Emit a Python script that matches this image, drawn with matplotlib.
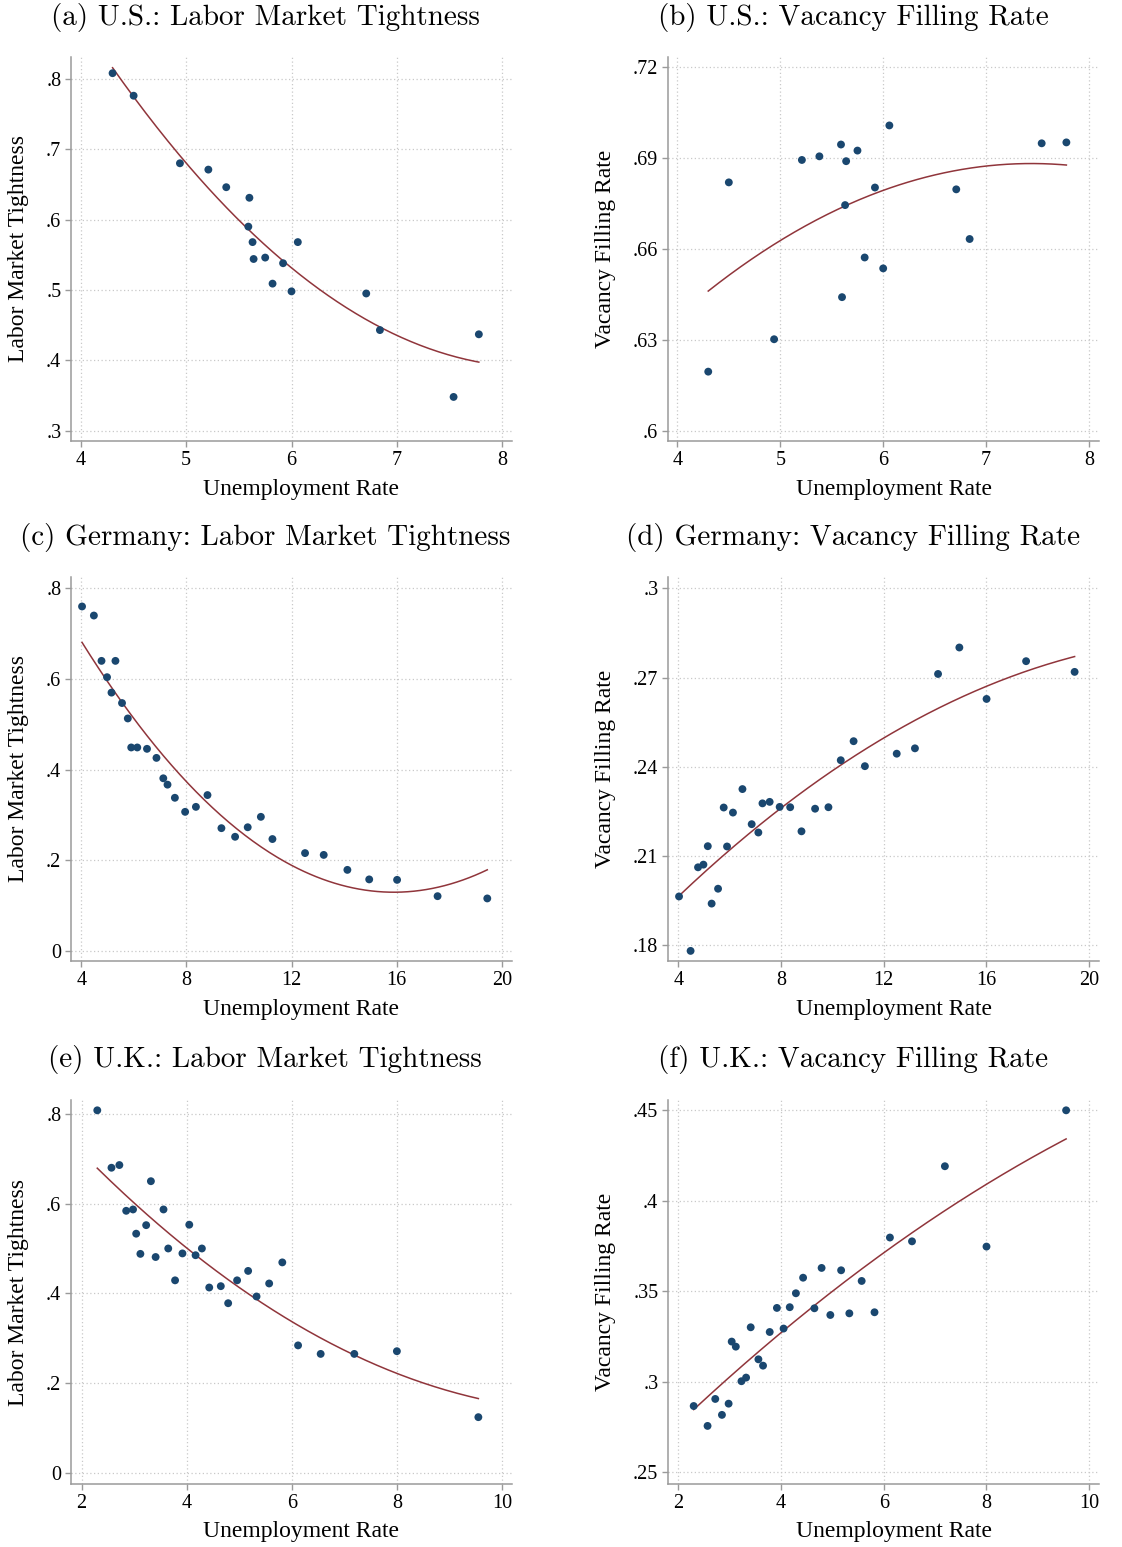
import numpy as np
import matplotlib
matplotlib.use("Agg")
import matplotlib.pyplot as plt
from matplotlib.ticker import FixedLocator, FuncFormatter

# ---- data -----------------------------------------------------------------
us_unemp = [4.30, 4.50, 4.94, 5.21, 5.38, 5.59, 5.60, 5.63, 5.64, 5.75,
            5.82, 5.92, 6.00, 6.06, 6.71, 6.84, 7.54, 7.78]
us_tightness = [0.808, 0.776, 0.680, 0.671, 0.646, 0.590, 0.631, 0.568, 0.544, 0.546,
                0.509, 0.538, 0.498, 0.568, 0.495, 0.443, 0.348, 0.437]
us_filling = [0.6195, 0.6820, 0.6302, 0.6894, 0.6906, 0.6945, 0.6441, 0.6745, 0.6890, 0.6925,
              0.6572, 0.6803, 0.6536, 0.7008, 0.6797, 0.6633, 0.6949, 0.6952]

de_unemp = [4.03, 4.48, 4.77, 4.98, 5.15, 5.30, 5.55, 5.77, 5.90, 6.13,
            6.50, 6.86, 7.12, 7.28, 7.56, 7.95, 8.36, 8.80, 9.33, 9.85,
            10.33, 10.83, 11.27, 12.51, 13.22, 14.12, 14.95, 16.01, 17.55, 19.44]
de_tightness = [0.760, 0.740, 0.640, 0.604, 0.570, 0.640, 0.547, 0.513, 0.449, 0.449,
                0.446, 0.426, 0.381, 0.367, 0.338, 0.307, 0.318, 0.344, 0.271, 0.252,
                0.273, 0.296, 0.247, 0.216, 0.212, 0.179, 0.158, 0.157, 0.121, 0.116]
de_filling = [0.1964, 0.1781, 0.2062, 0.2071, 0.2133, 0.1940, 0.1990, 0.2263, 0.2132, 0.2246,
              0.2325, 0.2207, 0.2179, 0.2277, 0.2282, 0.2265, 0.2264, 0.2183, 0.2259, 0.2264,
              0.2422, 0.2486, 0.2402, 0.2444, 0.2462, 0.2712, 0.2801, 0.2628, 0.2755, 0.2719]

uk_unemp = [2.30, 2.57, 2.72, 2.85, 2.98, 3.04, 3.12, 3.23, 3.32, 3.41,
            3.56, 3.65, 3.78, 3.92, 4.05, 4.17, 4.29, 4.43, 4.65, 4.79,
            4.96, 5.17, 5.33, 5.57, 5.82, 6.12, 6.55, 7.19, 8.00, 9.55]
uk_tightness = [0.808, 0.680, 0.686, 0.584, 0.587, 0.533, 0.488, 0.552, 0.650, 0.481,
                0.587, 0.500, 0.429, 0.489, 0.553, 0.485, 0.500, 0.413, 0.416, 0.378,
                0.429, 0.450, 0.393, 0.422, 0.469, 0.284, 0.265, 0.265, 0.271, 0.124]
uk_filling = [0.2866, 0.2756, 0.2905, 0.2817, 0.2879, 0.3222, 0.3194, 0.3003, 0.3023, 0.3301,
              0.3124, 0.3089, 0.3275, 0.3408, 0.3294, 0.3412, 0.3489, 0.3575, 0.3406, 0.3629,
              0.3369, 0.3616, 0.3378, 0.3557, 0.3384, 0.3797, 0.3776, 0.4191, 0.3747, 0.4500]

titles = ["(a) U.S.: Labor Market Tightness", "(b) U.S.: Vacancy Filling Rate",
          "(c) Germany: Labor Market Tightness", "(d) Germany: Vacancy Filling Rate",
          "(e) U.K.: Labor Market Tightness", "(f) U.K.: Vacancy Filling Rate"]
x_label = "Unemployment Rate"
y_labels = ["Labor Market Tightness", "Vacancy Filling Rate"]

us_xticks = [4, 5, 6, 7, 8]
de_xticks = [4, 8, 12, 16, 20]
uk_xticks = [2, 4, 6, 8, 10]
yticks_a = [0.3, 0.4, 0.5, 0.6, 0.7, 0.8]
yticks_b = [0.6, 0.63, 0.66, 0.69, 0.72]
yticks_c = [0, 0.2, 0.4, 0.6, 0.8]
yticks_d = [0.18, 0.21, 0.24, 0.27, 0.3]
yticks_e = [0, 0.2, 0.4, 0.6, 0.8]
yticks_f = [0.25, 0.3, 0.35, 0.4, 0.45]

# ---- styling --------------------------------------------------------------
W, H = 1122, 1547
DOT = "#1a476f"
FIT = "#90353b"
SPINE = "#9a9a9a"
GRID = "#c9c9c9"
SERIF = ["Liberation Serif", "DejaVu Serif"]
TITLE_FONT = ["cmr10", "DejaVu Serif"]

fig = plt.figure(figsize=(W / 100, H / 100), dpi=100)


def fmt(v, _pos=None):
    if abs(v) < 1e-12:
        return "0"
    s = f"{v:g}"
    return s[1:] if s.startswith("0.") else s


panels = [
    # x, y, xticks, yticks, xlim, ylim, column, row
    (us_unemp, us_tightness, us_xticks, yticks_a, (3.905, 8.095), (0.2854, 0.831), 0, 0),
    (us_unemp, us_filling, us_xticks, yticks_b, (3.909, 8.097), (0.5966, 0.7234), 1, 0),
    (de_unemp, de_tightness, de_xticks, yticks_c, (3.61, 20.38), (-0.022, 0.825), 0, 1),
    (de_unemp, de_filling, de_xticks, yticks_d, (3.60, 20.39), (0.1747, 0.3038), 1, 1),
    (uk_unemp, uk_tightness, uk_xticks, yticks_e, (1.80, 10.19), (-0.025, 0.831), 0, 2),
    (uk_unemp, uk_filling, uk_xticks, yticks_f, (1.80, 10.19), (0.2435, 0.4557), 1, 2),
]

col_left = [71, 668]
col_width = [441, 431]
row_top = [57, 577, 1100]
row_h = 384
title_x = [265, 853]
title_y = [17, 537, 1059]
xlabel_x = [301, 894]
ylabel_x = [19, 606]

for i, (x, y, xt, yt, xl, yl, c, r) in enumerate(panels):
    left = col_left[c] / W
    bottom = 1 - (row_top[r] + row_h) / H
    ax = fig.add_axes([left, bottom, col_width[c] / W, row_h / H])
    ax.set_xlim(*xl)
    ax.set_ylim(*yl)

    for s in ("top", "right"):
        ax.spines[s].set_visible(False)
    for s in ("left", "bottom"):
        ax.spines[s].set_color(SPINE)
        ax.spines[s].set_linewidth(1.1)

    ax.xaxis.set_major_locator(FixedLocator(xt))
    ax.yaxis.set_major_locator(FixedLocator(yt))
    ax.yaxis.set_major_formatter(FuncFormatter(fmt))
    ax.xaxis.set_major_formatter(FuncFormatter(fmt))
    ax.tick_params(direction="out", length=4, width=1.0, color=SPINE,
                   labelsize=14.5, pad=3)
    for lab in ax.get_xticklabels() + ax.get_yticklabels():
        lab.set_family(SERIF)

    ax.grid(True, which="major", color=GRID, linestyle=(0, (1, 2)), linewidth=0.9)
    ax.set_axisbelow(True)

    xs = np.asarray(x)
    ys = np.asarray(y)
    coef = np.polyfit(xs, ys, 2)
    xf = np.linspace(xs.min(), xs.max(), 200)
    ax.plot(xf, np.polyval(coef, xf), color=FIT, linewidth=1.1, zorder=2)
    ax.scatter(xs, ys, s=32, color=DOT, edgecolors="none", zorder=3)

    fig.text(title_x[c] / W, 1 - title_y[r] / H, titles[i], family=TITLE_FONT,
             fontsize=21, ha="center", va="center")
    fig.text(xlabel_x[c] / W, 1 - (row_top[r] + row_h + 48) / H, x_label,
             family=SERIF, fontsize=17, ha="center", va="center")
    fig.text(ylabel_x[c] / W, 1 - (row_top[r] + row_h / 2) / H, y_labels[c],
             family=SERIF, fontsize=17, ha="center", va="center", rotation=90)

fig.savefig("out.png", dpi=100, facecolor="white")
